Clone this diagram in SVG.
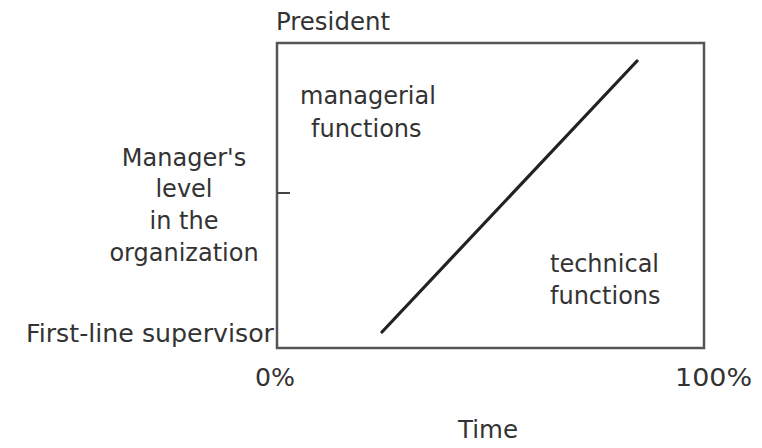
<svg xmlns="http://www.w3.org/2000/svg" width="762" height="448" viewBox="0 0 762 448">
<style>
text { font-family: "DejaVu Sans", "Liberation Sans", sans-serif; font-size: 24px; fill: #333; }
.frame { fill: none; stroke: #555; stroke-width: 2.5; }
.curve { fill: none; stroke: #222; stroke-width: 3.2; stroke-linecap: round; }
.tick { stroke: #444; stroke-width: 2; }
</style>
<rect width="762" height="448" fill="#fff"/>
<g id="chart">
  <rect class="frame" x="277" y="43" width="427" height="305"/>
  <line class="tick" x1="277" y1="193" x2="290" y2="193"/>
</g>
<g id="connectors">
  <line class="curve" x1="382" y1="332" x2="637" y2="61"/>
</g>
<g id="axis-labels">
  <text x="276" y="30" textLength="114" lengthAdjust="spacingAndGlyphs">President</text>
  <text x="184" y="166" text-anchor="middle">Manager's</text>
  <text x="184" y="197" text-anchor="middle">level</text>
  <text x="184" y="229" text-anchor="middle">in the</text>
  <text x="184" y="261" text-anchor="middle">organization</text>
  <text x="26" y="342" textLength="248" lengthAdjust="spacingAndGlyphs">First-line supervisor</text>
  <text x="255" y="386" textLength="40" lengthAdjust="spacingAndGlyphs">0%</text>
  <text x="675" y="386" textLength="77" lengthAdjust="spacingAndGlyphs">100%</text>
  <text x="458" y="438" textLength="60" lengthAdjust="spacingAndGlyphs">Time</text>
</g>
<g id="managerial">
  <text x="300" y="104">managerial</text>
  <text x="311" y="137">functions</text>
</g>
<g id="technical">
  <text x="550" y="272">technical</text>
  <text x="550" y="304">functions</text>
</g>
</svg>
